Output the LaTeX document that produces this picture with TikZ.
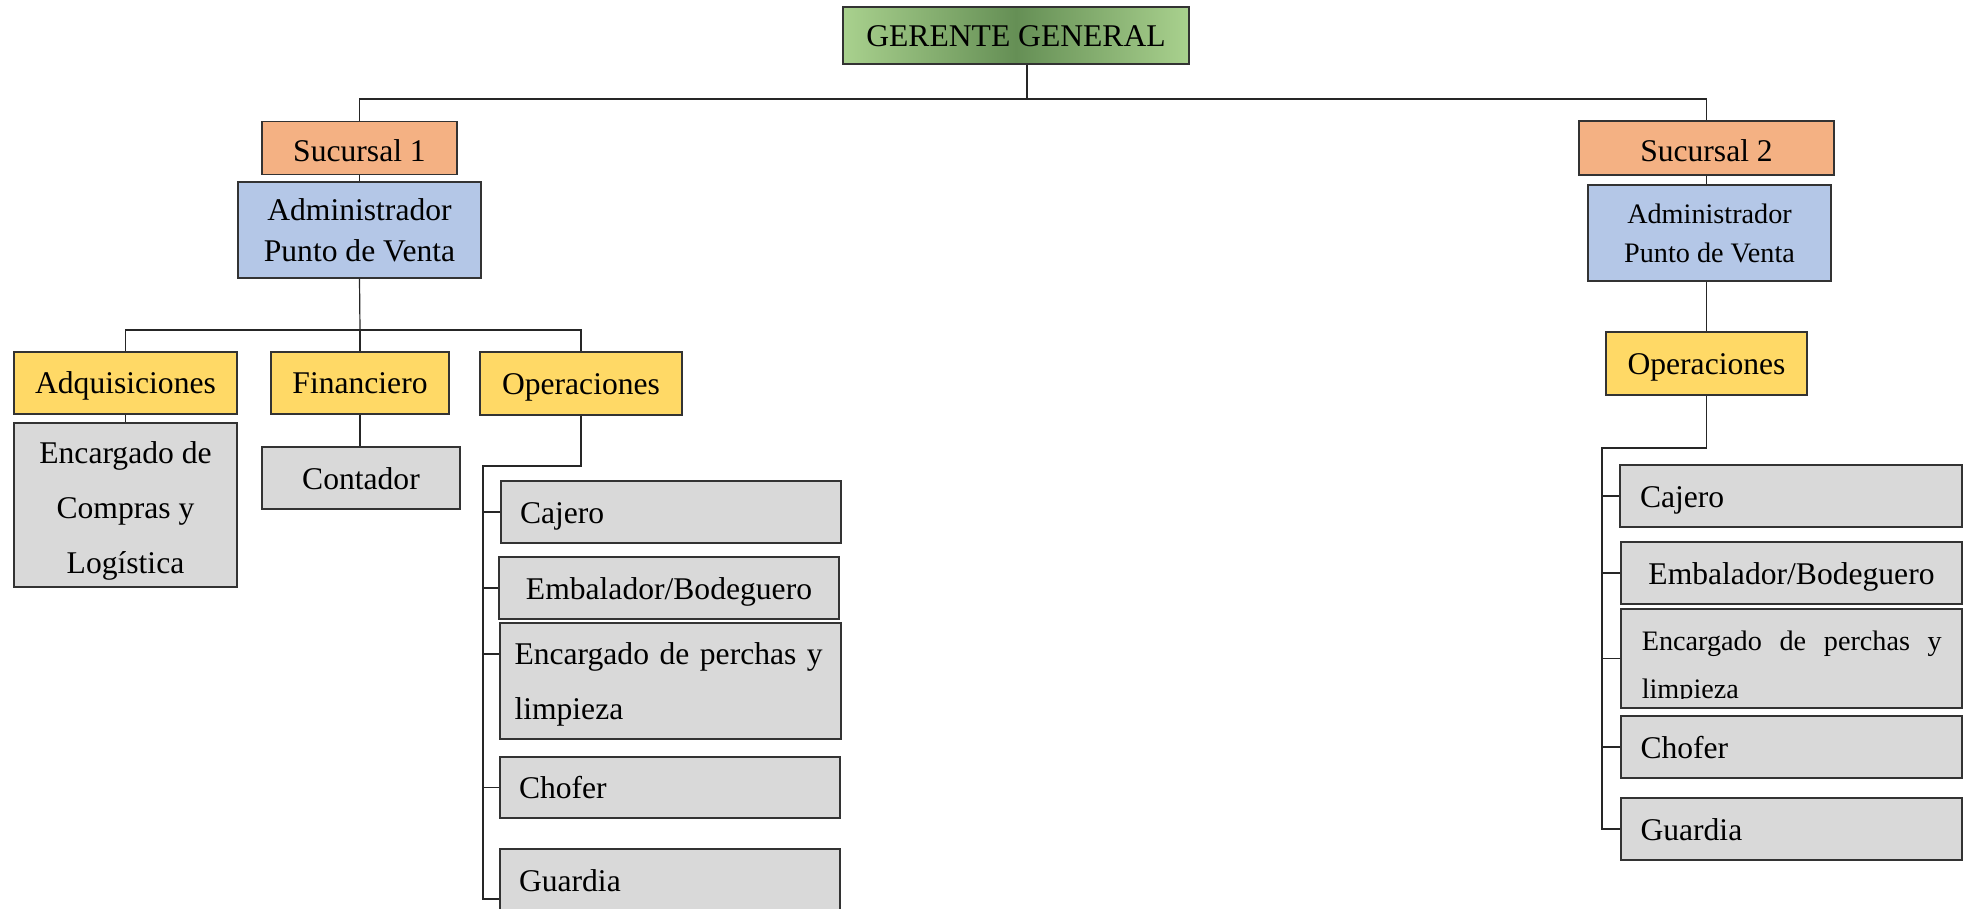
\documentclass[tikz,border=0pt]{standalone}
\usepackage{fontspec}
\setmainfont{Liberation Serif}
\usetikzlibrary{positioning}
\definecolor{ggLight}{HTML}{A9D18E}
\definecolor{ggDark}{HTML}{658F55}
\definecolor{sucFill}{HTML}{F4B183}
\definecolor{admFill}{HTML}{B4C7E7}
\definecolor{areaFill}{HTML}{FFD966}
\definecolor{cargoFill}{HTML}{D9D9D9}
\newcommand{\txtN}{\fontsize{15.8}{27.5}\selectfont}
\newcommand{\txtA}{\fontsize{15.8}{20.5}\selectfont}
\newcommand{\txtS}{\fontsize{14.1}{19.5}\selectfont}
\newcommand{\alto}[1]{\rule{0pt}{#1}}

\begin{document}
\begin{tikzpicture}[x=0.5pt,y=-0.5pt,
  box/.style={draw=black!80,line width=0.6pt,inner sep=0pt,align=center,font=\txtN},
  one/.style={execute at begin node=\strut,execute at end node=\strut},
  jefe/.style={box,one,left color=ggLight,right color=ggLight,middle color=ggDark},
  suc/.style={box,fill=sucFill,font=\txtA,
    execute at begin node={\rule{0pt}{19pt}},execute at end node={\rule[-5.5pt]{0pt}{5.5pt}}},
  adm/.style={box,fill=admFill,font=\txtA},
  area/.style={box,one,fill=areaFill},
  cargoM/.style={box,fill=cargoFill},
  cargo/.style={cargoM,one},
  cargoL/.style={cargo,text width=151pt,align=left},
  link/.style={draw=black!85,line width=0.6pt}]
  \useasboundingbox (0,0) rectangle (1966,909);

  % nivel superior
  \node[jefe,minimum width=173pt,minimum height=28.5pt] (gg) at (1016,35.5) {GERENTE GENERAL};
  \node[suc,minimum width=97.5pt,minimum height=26.5pt] (s1) at (359.5,148) {Sucursal 1};
  \node[suc,minimum width=127.5pt,minimum height=27pt] (s2) at (1706.5,148) {Sucursal 2};
  \node[adm,minimum width=121.5pt,minimum height=48pt] (a1) at (359.5,230) {Administrador\\Punto de Venta};
  \node[adm,font=\txtS,minimum width=121.5pt,minimum height=48pt] (a2) at (1709.5,233) {Administrador\\Punto de Venta};

  % sucursal 1
  \node[area,minimum width=111.5pt,minimum height=31pt] (adq) at (125.5,383) {Adquisiciones};
  \node[area,minimum width=89pt,minimum height=31pt] (fin) at (360,383) {Financiero};
  \node[area,minimum width=101pt,minimum height=31.5pt] (ope1) at (581,383.5) {Operaciones};
  \node[cargoM,minimum width=111.5pt,minimum height=82pt]
    (ecl) at (125.5,505) {\alto{17pt}Encargado de\\Compras y\\Log\'istica};
  \node[cargo,minimum width=99pt,minimum height=31pt] (cont) at (361,478) {Contador};
  \node[cargoL,minimum width=170pt,minimum height=31pt] (caj1) at (671,512) {Cajero};
  \node[cargo,minimum width=170pt,minimum height=31pt] (emb1) at (669,588) {Embalador/Bodeguero};
  \node[cargoM,text width=156pt,align=left,minimum width=170.5pt,minimum height=58pt]
    (enc1) at (670.5,681) {\alto{14pt}Encargado de perchas y\\limpieza};
  \node[cargoL,minimum width=170pt,minimum height=30.5pt] (cho1) at (670,787.5) {Chofer};
  \node[cargoL,minimum width=170pt,minimum height=31pt] (gua1) at (670,880) {Guardia};

  % sucursal 2
  \node[area,minimum width=100.5pt,minimum height=31.5pt] (ope2) at (1706.5,363.5) {Operaciones};
  \node[cargoL,minimum width=171pt,minimum height=31pt] (caj2) at (1791,496) {Cajero};
  \node[cargo,minimum width=170.5pt,minimum height=31pt] (emb2) at (1791.5,573) {Embalador/Bodeguero};
  \node[cargoM,minimum width=170.5pt,minimum height=49.5pt] (enc2) at (1791.5,658.5) {};
  \begin{scope}
    \clip ([yshift=5pt]enc2.south west) rectangle (enc2.north east);
    \node[font=\fontsize{14.1}{24}\selectfont,inner sep=0pt,text width=150pt,align=justify,anchor=north west]
      (enc2t) at ([xshift=10.5pt,yshift=-11pt]enc2.north west) {Encargado de perchas y limpieza};
  \end{scope}
  \node[cargoL,minimum width=170.5pt,minimum height=31pt] (cho2) at (1791.5,747) {Chofer};
  \node[cargoL,minimum width=170.5pt,minimum height=31pt] (gua2) at (1791.5,829) {Guardia};

  % lineas
  \coordinate (bus0) at (1027,99);
  \coordinate (bus1) at (360,330);
  \coordinate (sp1) at (483,466);
  \coordinate (sp1end) at (483,899);
  \coordinate (sp2) at (1602,448);
  \draw[link] (gg.south -| bus0) -- (bus0);
  \draw[link] (s1.north) |- (bus0) -| (s2.north);
  \draw[link] (s1) -- (a1);
  \draw[link] (s2.south) -- (s2.south |- a2.north);
  \draw[link] (a1.south) -- (bus1);
  \draw[link] (adq.north) |- (bus1) -| (ope1.north);
  \draw[link] (bus1) -- (fin.north);
  \draw[link] (adq) -- (ecl);
  \draw[link] (fin.south) -- (fin.south |- cont.north);
  \draw[link] (ope1.south) |- (sp1) -- (sp1end) -- (sp1end -| gua1.west);
  \foreach \b in {caj1,emb1,cho1}
    \draw[link] (\b.west) -- (\b.west -| sp1);
  \draw[link] ([yshift=13.5pt]enc1.west) -- ([yshift=13.5pt]enc1.west -| sp1);
  \draw[link] (a2.south -| ope2) -- (ope2.north);
  \draw[link] (ope2.south) |- (sp2) |- (gua2.west);
  \foreach \b in {caj2,emb2,enc2,cho2}
    \draw[link] (\b.west) -- (\b.west -| sp2);
\end{tikzpicture}
\end{document}
